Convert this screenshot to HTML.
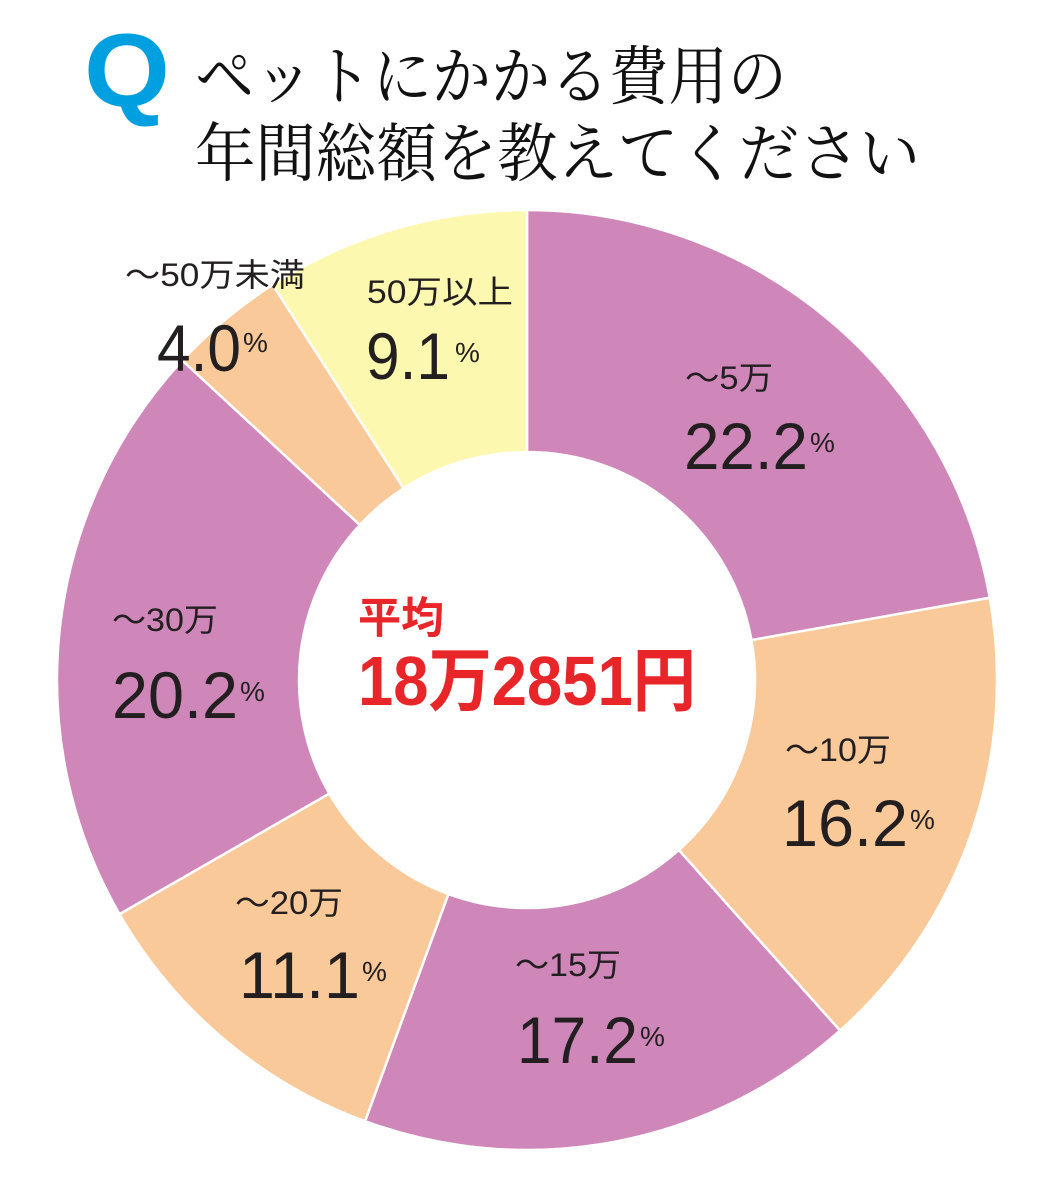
<!DOCTYPE html>
<html><head><meta charset="utf-8"><style>
html,body{margin:0;padding:0;background:#fff;}
svg{display:block;}
.lab{font-family:"Liberation Sans","Noto Sans CJK JP",sans-serif;fill:#231f20;font-size:32px;}
.num{font-family:"Liberation Sans",sans-serif;fill:#231f20;font-size:66px;}
.pc{font-family:"Liberation Sans",sans-serif;fill:#231f20;font-size:28px;}
.t{font-family:"Liberation Serif","Noto Serif CJK JP","Noto Serif CJK SC",serif;fill:#111;font-size:64px;}
.r{font-family:"Liberation Sans","Noto Sans CJK JP",sans-serif;fill:#e8262a;font-weight:bold;}
</style></head><body>
<svg id="s" width="1041" height="1200" viewBox="0 0 1041 1200" xmlns="http://www.w3.org/2000/svg">
<g id="ring"></g>
<text x="84" y="106" font-family="Liberation Sans,sans-serif" font-weight="bold" font-size="104" fill="#00a0e0" textLength="86" lengthAdjust="spacingAndGlyphs">Q</text>
<text class="t" x="195" y="99" textLength="592" lengthAdjust="spacingAndGlyphs">ペットにかかる費用の</text>
<text class="t" x="195" y="176" textLength="725" lengthAdjust="spacingAndGlyphs">年間総額を教えてください</text>

<text class="r" x="358" y="633" font-size="43" textLength="86" lengthAdjust="spacingAndGlyphs">平均</text>
<text class="r" x="358" y="705" font-size="70" textLength="338" lengthAdjust="spacingAndGlyphs">18万2851円</text>

<text class="lab" x="125" y="286" textLength="180" lengthAdjust="spacingAndGlyphs">～50万未満</text>
<text class="num" x="157" y="371" textLength="84" lengthAdjust="spacingAndGlyphs">4.0</text>
<text class="pc" x="243" y="352">%</text>

<text class="lab" x="367" y="303" textLength="146" lengthAdjust="spacingAndGlyphs">50万以上</text>
<text class="num" x="366" y="379" textLength="84" lengthAdjust="spacingAndGlyphs">9.1</text>
<text class="pc" x="455" y="362">%</text>

<text class="lab" x="685" y="389" textLength="88" lengthAdjust="spacingAndGlyphs">～5万</text>
<text class="num" x="684" y="469" textLength="124" lengthAdjust="spacingAndGlyphs">22.2</text>
<text class="pc" x="810" y="452">%</text>

<text class="lab" x="112" y="631" textLength="106" lengthAdjust="spacingAndGlyphs">～30万</text>
<text class="num" x="112" y="718" textLength="126" lengthAdjust="spacingAndGlyphs">20.2</text>
<text class="pc" x="240" y="701">%</text>

<text class="lab" x="785" y="761" textLength="106" lengthAdjust="spacingAndGlyphs">～10万</text>
<text class="num" x="782" y="846" textLength="126" lengthAdjust="spacingAndGlyphs">16.2</text>
<text class="pc" x="910" y="829">%</text>

<text class="lab" x="235" y="914" textLength="108" lengthAdjust="spacingAndGlyphs">～20万</text>
<text class="num" x="239" y="998" textLength="121" lengthAdjust="spacingAndGlyphs">11.1</text>
<text class="pc" x="362" y="981">%</text>

<text class="lab" x="515" y="976" textLength="106" lengthAdjust="spacingAndGlyphs">～15万</text>
<text class="num" x="517" y="1063" textLength="121" lengthAdjust="spacingAndGlyphs">17.2</text>
<text class="pc" x="640" y="1046">%</text>
</svg>
<script>
(function(){
var cx=527,cy=680,R=470,r=228;
var d=[[22.2,"#cf86b9"],[16.2,"#f9c999"],[17.2,"#cf86b9"],[11.1,"#f9c999"],[20.2,"#cf86b9"],[4.0,"#f9c999"],[9.1,"#fdf8b0"]];
var g=document.getElementById("ring"),a=0,h="";
function pt(rad,ang){var t=ang/100*2*Math.PI;return [cx+rad*Math.sin(t),cy-rad*Math.cos(t)];}
d.forEach(function(s){
 var a2=a+s[0],lg=s[0]>50?1:0;
 var p1=pt(R,a),p2=pt(R,a2),p3=pt(r,a2),p4=pt(r,a);
 h+='<path fill="'+s[1]+'" stroke="#fff" stroke-width="2.5" stroke-linejoin="round" d="M'+p1[0]+' '+p1[1]+'A'+R+' '+R+' 0 '+lg+' 1 '+p2[0]+' '+p2[1]+'L'+p3[0]+' '+p3[1]+'A'+r+' '+r+' 0 '+lg+' 0 '+p4[0]+' '+p4[1]+'Z"/>';
 a=a2;
});
g.innerHTML=h;
})();
</script>
</body></html>
